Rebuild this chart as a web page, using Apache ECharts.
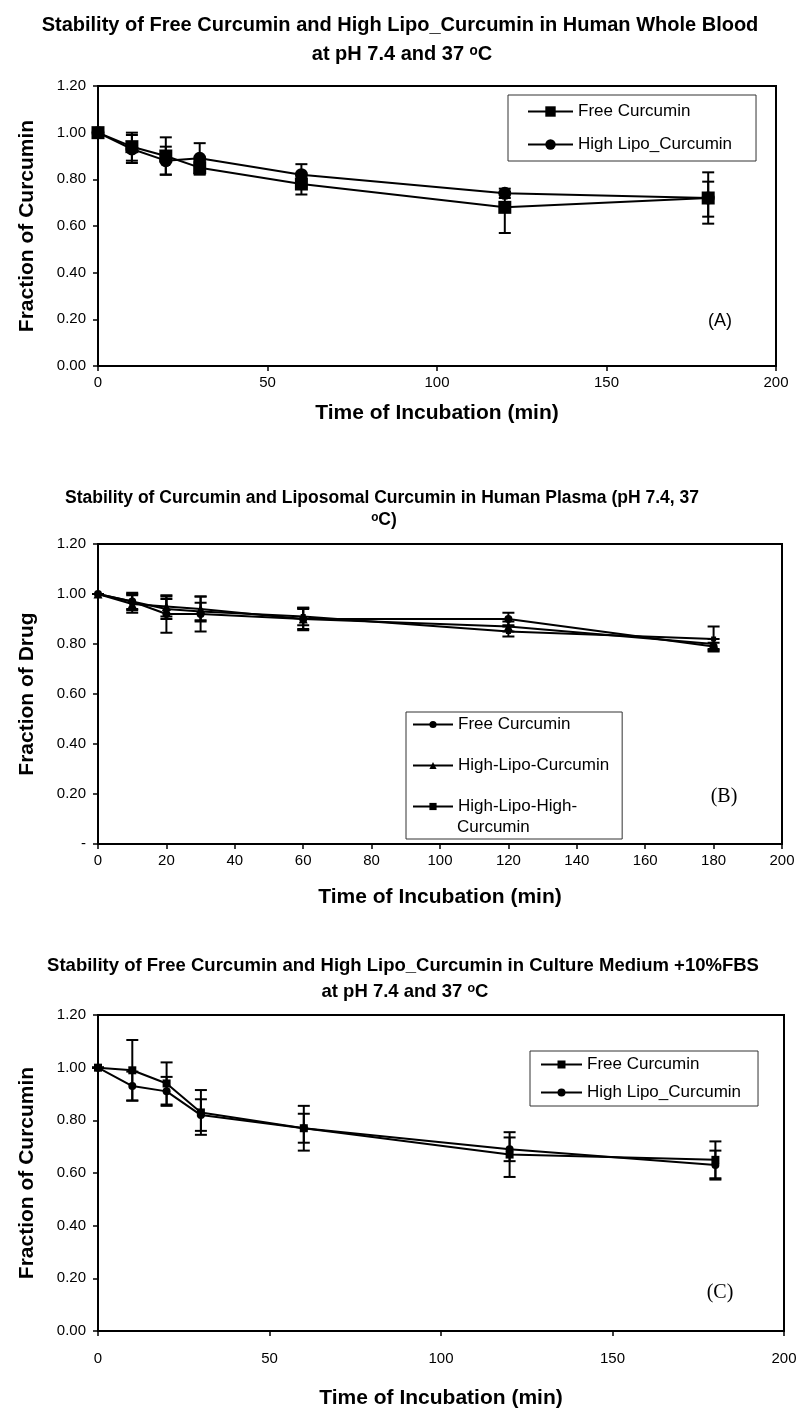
<!DOCTYPE html>
<html>
<head>
<meta charset="utf-8">
<script src="https://cdn.jsdelivr.net/npm/echarts@6/dist/echarts.min.js"></script>
<style>
html,body{margin:0;padding:0;background:#fff;width:802px;height:1414px;overflow:hidden}
.p{position:absolute;left:0;width:802px}
</style>
</head>
<body>
<div id="pa" class="p" style="top:0;height:460px"></div>
<div id="pb" class="p" style="top:460px;height:460px"></div>
<div id="pc" class="p" style="top:920px;height:494px"></div>
<script>
// ---------- Data ----------
const time = [0, 10, 20, 30, 60, 120, 180];

// Panel A: human whole blood
const freeA      = [1.00, 0.94, 0.90, 0.85, 0.78, 0.68, 0.72];
const freeA_up   = [0.00, 0.06, 0.08, 0.03, 0.045, 0.065, 0.11];
const freeA_down = [0.00, 0.06, 0.08, 0.03, 0.045, 0.11, 0.11];
const lipoA      = [1.00, 0.93, 0.88, 0.89, 0.82, 0.74, 0.72];
const lipoA_up   = [0.00, 0.06, 0.06, 0.065, 0.045, 0.02, 0.07];
const lipoA_down = [0.00, 0.06, 0.06, 0.065, 0.045, 0.02, 0.08];

// Panel B: human plasma
const freeB     = [1.00, 0.97, 0.92, 0.92, 0.90, 0.90, 0.79];
const freeB_err = [0.00, 0.03, 0.075, 0.07, 0.045, 0.025, 0.015];
const lipoB     = [1.00, 0.96, 0.95, 0.94, 0.90, 0.87, 0.80];
const lipoB_err = [0.00, 0.035, 0.04, 0.05, 0.04, 0.02, 0.02];
const hiB       = [1.00, 0.97, 0.94, 0.93, 0.91, 0.85, 0.82];
const hiB_err   = [0.00, 0.035, 0.04, 0.035, 0.035, 0.02, 0.05];

// Panel C: culture medium + 10% FBS
const freeC     = [1.00, 0.99, 0.94, 0.83, 0.77, 0.67, 0.65];
const freeC_err = [0.00, 0.115, 0.08, 0.085, 0.085, 0.085, 0.07];
const lipoC     = [1.00, 0.93, 0.91, 0.82, 0.77, 0.69, 0.63];
const lipoC_err = [0.00, 0.055, 0.055, 0.06, 0.055, 0.045, 0.055];

const yTickLabels  = ['0.00', '0.20', '0.40', '0.60', '0.80', '1.00', '1.20'];
const yTickLabelsB = ['-', '0.20', '0.40', '0.60', '0.80', '1.00', '1.20'];

const titleA = ['Stability of Free Curcumin and High Lipo_Curcumin in Human Whole Blood', 'at pH 7.4 and 37 \u1D52C'];
const titleB = ['Stability of Curcumin and Liposomal Curcumin in Human Plasma (pH 7.4, 37', '\u1D52C)'];
const titleC = ['Stability of Free Curcumin and High Lipo_Curcumin in Culture Medium +10%FBS', 'at pH 7.4 and 37 \u1D52C'];

const legendA = ['Free Curcumin', 'High Lipo_Curcumin'];
const legendB = ['Free Curcumin', 'High-Lipo-Curcumin', 'High-Lipo-High-Curcumin'];
const legendC = ['Free Curcumin', 'High Lipo_Curcumin'];

// ---------- Helpers ----------
const FONT = 'Liberation Sans, Arial, sans-serif';
const SERIF = 'Liberation Serif, Times New Roman, serif';

function errSeries(vals, up, down, capHalf) {
  return {
    type: 'custom',
    silent: true,
    z: 1,
    data: time.map((t, i) => [t, vals[i] - down[i], vals[i] + up[i]]),
    renderItem: function (params, api) {
      const x = api.value(0);
      const lo = api.coord([x, api.value(1)]);
      const hi = api.coord([x, api.value(2)]);
      const st = { stroke: '#000', lineWidth: 2 };
      return {
        type: 'group',
        children: [
          { type: 'line', shape: { x1: lo[0], y1: lo[1], x2: hi[0], y2: hi[1] }, style: st },
          { type: 'line', shape: { x1: lo[0] - capHalf, y1: lo[1], x2: lo[0] + capHalf, y2: lo[1] }, style: st },
          { type: 'line', shape: { x1: hi[0] - capHalf, y1: hi[1], x2: hi[0] + capHalf, y2: hi[1] }, style: st }
        ]
      };
    }
  };
}

function lineSeries(name, vals, symbol, size) {
  return {
    name: name,
    type: 'line',
    data: time.map((t, i) => [t, vals[i]]),
    symbol: symbol,
    symbolSize: size,
    showSymbol: true,
    z: 3,
    lineStyle: { color: '#000', width: 2 },
    itemStyle: { color: '#000', borderColor: '#000', borderWidth: 0 },
    emphasis: { disabled: true }
  };
}

function gText(text, x, y, font, align) {
  return {
    type: 'text', x: x, y: y, silent: true,
    style: { text: text, font: font, fill: '#000', textAlign: align || 'center', textVerticalAlign: 'middle' }
  };
}

function axes(o) {
  return {
    xAxis: {
      type: 'value', min: 0, max: 200, interval: o.xInterval,
      name: 'Time of Incubation (min)', nameLocation: 'middle', nameGap: o.xNameGap,
      nameTextStyle: { fontFamily: FONT, fontWeight: 'bold', fontSize: 21, color: '#000' },
      axisLine: { show: true, lineStyle: { color: '#000', width: 2 } },
      axisTick: { show: true, length: 5, lineStyle: { color: '#000', width: 1.5 } },
      axisLabel: { fontFamily: FONT, fontSize: 15, color: '#000', margin: o.xLabelMargin },
      splitLine: { show: false }
    },
    yAxis: {
      type: 'value', min: 0, max: 1.2, interval: 0.2,
      name: o.yName, nameLocation: 'middle', nameGap: 60,
      nameTextStyle: { fontFamily: FONT, fontWeight: 'bold', fontSize: 21, color: '#000' },
      axisLine: { show: true, lineStyle: { color: '#000', width: 2 } },
      axisTick: { show: true, length: 5, lineStyle: { color: '#000', width: 1.5 } },
      axisLabel: {
        fontFamily: FONT, fontSize: 15, color: '#000', margin: 12,
        formatter: function (v) { return o.yLabels[Math.round(v / 0.2)]; }
      },
      splitLine: { show: false }
    }
  };
}

// ---------- Panel A ----------
const chartA = echarts.init(document.getElementById('pa'), null, { renderer: 'canvas' });
chartA.setOption(Object.assign({
  animation: false,
  graphic: [
    gText(titleA[0], 400, 25, 'bold 20px ' + FONT),
    gText(titleA[1], 402, 54, 'bold 20px ' + FONT),
    gText('(A)', 720, 321, '18px ' + FONT)
  ],
  grid: { left: 98, width: 678, top: 86, height: 280, show: true, borderColor: '#000', borderWidth: 2 },
  legend: {
    orient: 'vertical', left: 508, top: 95,
    data: legendA,
    itemWidth: 45, itemHeight: 13, itemGap: 16,
    padding: [8, 24, 8, 19],
    borderColor: '#333', borderWidth: 1,
    textStyle: { fontFamily: FONT, fontSize: 17, color: '#000' },
    selectedMode: false
  },
  series: [
    errSeries(freeA, freeA_up, freeA_down, 6),
    errSeries(lipoA, lipoA_up, lipoA_down, 6),
    lineSeries(legendA[0], freeA, 'rect', 13),
    lineSeries(legendA[1], lipoA, 'circle', 13)
  ]
}, axes({ xInterval: 50, xNameGap: 37, xLabelMargin: 9, yName: 'Fraction of Curcumin', yLabels: yTickLabels })));

// ---------- Panel B ----------
const chartB = echarts.init(document.getElementById('pb'), null, { renderer: 'canvas' });
chartB.setOption(Object.assign({
  animation: false,
  graphic: [
    gText(titleB[0], 382, 38, 'bold 17.5px ' + FONT),
    gText(titleB[1], 384, 60, 'bold 17.5px ' + FONT),
    gText('(B)', 724, 337, '20px ' + SERIF),
    gText('Curcumin', 457, 367, '17px ' + FONT, 'left')
  ],
  grid: { left: 98, width: 684, top: 84, height: 300, show: true, borderColor: '#000', borderWidth: 2 },
  legend: {
    orient: 'vertical', left: 406, top: 252,
    data: legendB,
    formatter: function (n) { return n === legendB[2] ? 'High-Lipo-High-' : n; },
    itemWidth: 40, itemHeight: 9, itemGap: 24,
    padding: [4, 13, 24, 6],
    borderColor: '#333', borderWidth: 1,
    textStyle: { fontFamily: FONT, fontSize: 17, color: '#000' },
    selectedMode: false
  },
  series: [
    errSeries(freeB, freeB_err, freeB_err, 6),
    errSeries(lipoB, lipoB_err, lipoB_err, 6),
    errSeries(hiB, hiB_err, hiB_err, 6),
    lineSeries(legendB[0], freeB, 'circle', 8),
    lineSeries(legendB[1], lipoB, 'triangle', 9),
    lineSeries(legendB[2], hiB, 'rect', 5)
  ]
}, axes({ xInterval: 20, xNameGap: 43, xLabelMargin: 9, yName: 'Fraction of Drug', yLabels: yTickLabelsB })));

// ---------- Panel C ----------
const chartC = echarts.init(document.getElementById('pc'), null, { renderer: 'canvas' });
chartC.setOption(Object.assign({
  animation: false,
  graphic: [
    gText(titleC[0], 403, 46, 'bold 18.5px ' + FONT),
    gText(titleC[1], 405, 72, 'bold 18.5px ' + FONT),
    gText('(C)', 720, 373, '20px ' + SERIF)
  ],
  grid: { left: 98, width: 686, top: 95, height: 320, show: true, borderColor: '#000', borderWidth: 2 },
  legend: {
    orient: 'vertical', left: 530, top: 131,
    data: legendC,
    itemWidth: 41, itemHeight: 10, itemGap: 11,
    padding: [5, 17, 5, 10],
    borderColor: '#333', borderWidth: 1,
    textStyle: { fontFamily: FONT, fontSize: 17, color: '#000' },
    selectedMode: false
  },
  series: [
    errSeries(freeC, freeC_err, freeC_err, 6),
    errSeries(lipoC, lipoC_err, lipoC_err, 6),
    lineSeries(legendC[0], freeC, 'rect', 8),
    lineSeries(legendC[1], lipoC, 'circle', 8)
  ]
}, axes({ xInterval: 50, xNameGap: 57, xLabelMargin: 20, yName: 'Fraction of Curcumin', yLabels: yTickLabels })));
</script>
</body>
</html>
